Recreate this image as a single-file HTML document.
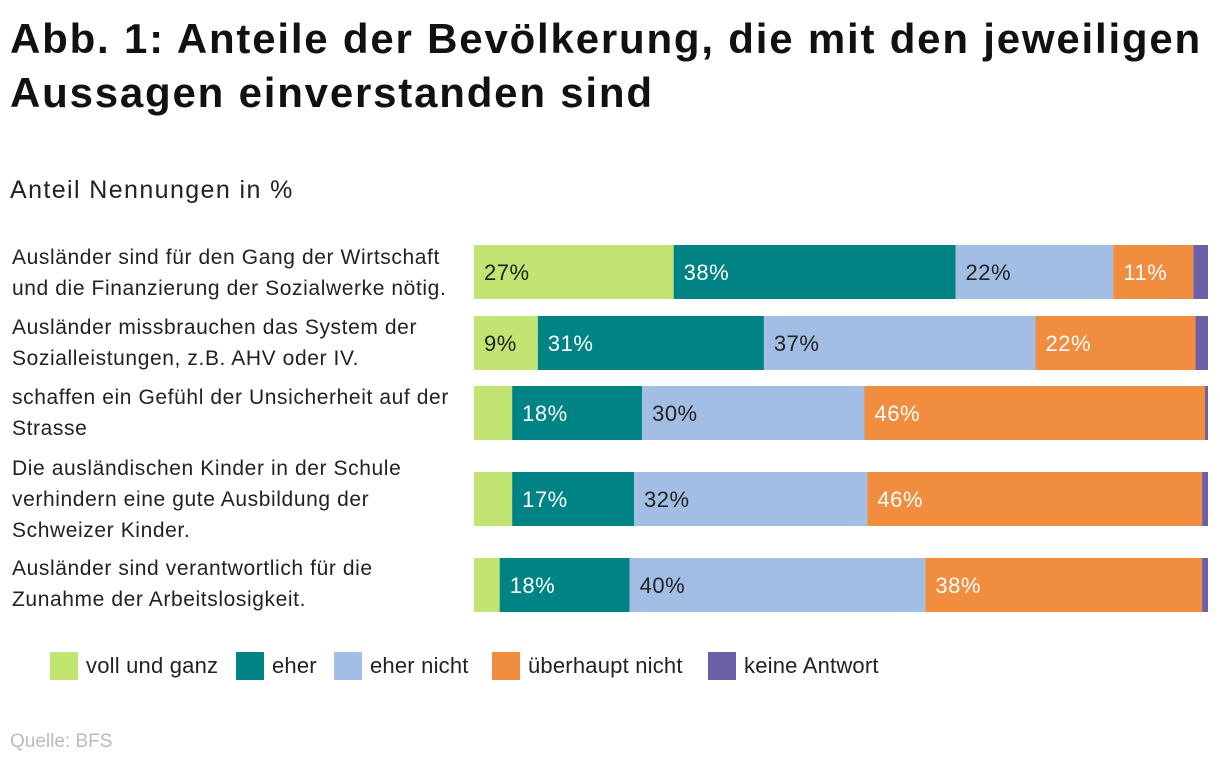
<!DOCTYPE html>
<html><head><meta charset="utf-8"><style>
body{margin:0;width:1220px;height:768px;background:#fff;font-family:"Liberation Sans",sans-serif;color:#111;position:relative;overflow:hidden}
h1{position:absolute;left:10px;top:12px;margin:0;font-size:42px;line-height:54px;font-weight:bold;letter-spacing:1.8px;white-space:nowrap}
.sub{position:absolute;left:10px;top:176px;font-size:25px;color:#222;letter-spacing:1.4px}
.cat{position:absolute;left:12px;font-size:21px;line-height:31px;color:#222;width:470px;letter-spacing:0.6px;white-space:nowrap}
.src{position:absolute;left:10px;top:731px;font-size:19px;color:#bbb}
.leg{position:absolute;top:652px;font-size:22px;color:#222;display:flex;align-items:center;letter-spacing:0.2px}
.leg span.sw{width:28px;height:28px;display:inline-block;margin-right:8px}
</style></head><body>
<h1>Abb. 1: Anteile der Bevölkerung, die mit den jeweiligen<br>Aussagen einverstanden sind</h1>
<div class="sub">Anteil Nennungen in %</div>
<div id="cats"></div>
<svg id="chart" width="1220" height="768" style="position:absolute;left:0;top:0"></svg>
<div id="legend"></div>
<div class="src">Quelle: BFS</div>
<script>
const categories=["Ausländer sind für den Gang der Wirtschaft<br>und die Finanzierung der Sozialwerke nötig.","Ausländer missbrauchen das System der<br>Sozialleistungen, z.B. AHV oder IV.","schaffen ein Gefühl der Unsicherheit auf der<br>Strasse","Die ausländischen Kinder in der Schule<br>verhindern eine gute Ausbildung der<br>Schweizer Kinder.","Ausländer sind verantwortlich für die<br>Zunahme der Arbeitslosigkeit."];
const seriesNames=["voll und ganz","eher","eher nicht","überhaupt nicht","keine Antwort"];
const vollUndGanz=[27.2,8.7,5.2,5.2,3.5];
const eher=[38.4,30.8,17.7,16.6,17.7];
const eherNicht=[21.5,37.0,30.3,31.8,40.3];
const ueberhauptNicht=[10.9,21.8,46.4,45.6,37.7];
const keineAntwort=[2.0,1.7,0.4,0.8,0.8];
const series=[vollUndGanz,eher,eherNicht,ueberhauptNicht,keineAntwort];
const colors=["#c2e473","#008385","#a2bee4","#f08d3e","#6c5fa6"];
const textCol=["#222","#fff","#222","#fff","#fff"];
const rowTop=[245,316,386,472,558];const barH=54;
const x0=474,x1=1208;
const xs=v=>x0+(x1-x0)*v/100;
const svg=document.getElementById('chart');const NS="http://www.w3.org/2000/svg";
const catDiv=document.getElementById('cats');
const labelTops=[242,312,382,453,553];
categories.forEach((c,i)=>{
 const d=document.createElement('div');d.className='cat';d.style.top=labelTops[i]+'px';d.innerHTML=c;
 
 
 catDiv.appendChild(d);
 let acc=0;
 series.forEach((s,j)=>{
  const v=s[i];const r=document.createElementNS(NS,'rect');
  r.setAttribute('x',xs(acc));r.setAttribute('y',rowTop[i]);r.setAttribute('width',xs(acc+v)-xs(acc));r.setAttribute('height',barH);r.setAttribute('fill',colors[j]);
  
  
  svg.appendChild(r);
  if(v>=7){const t=document.createElementNS(NS,'text');t.setAttribute('x',xs(acc)+10);t.setAttribute('y',rowTop[i]+barH/2+8);t.setAttribute('font-size','22');t.setAttribute('fill',textCol[j]);t.setAttribute('font-family','Liberation Sans, sans-serif');t.setAttribute('letter-spacing','0.5');t.textContent=Math.round(v)+'%';
  
  
  svg.appendChild(t);}
  acc+=v;
 });
});
const legX=[50,236,334,492,708];
const lg=document.getElementById('legend');
seriesNames.forEach((n,j)=>{
 const d=document.createElement('div');d.className='leg';d.style.left=legX[j]+'px';
 d.innerHTML='<span class="sw" style="background:'+colors[j]+'"></span>'+n;
 
 
 lg.appendChild(d);
});
</script>
</body></html>
